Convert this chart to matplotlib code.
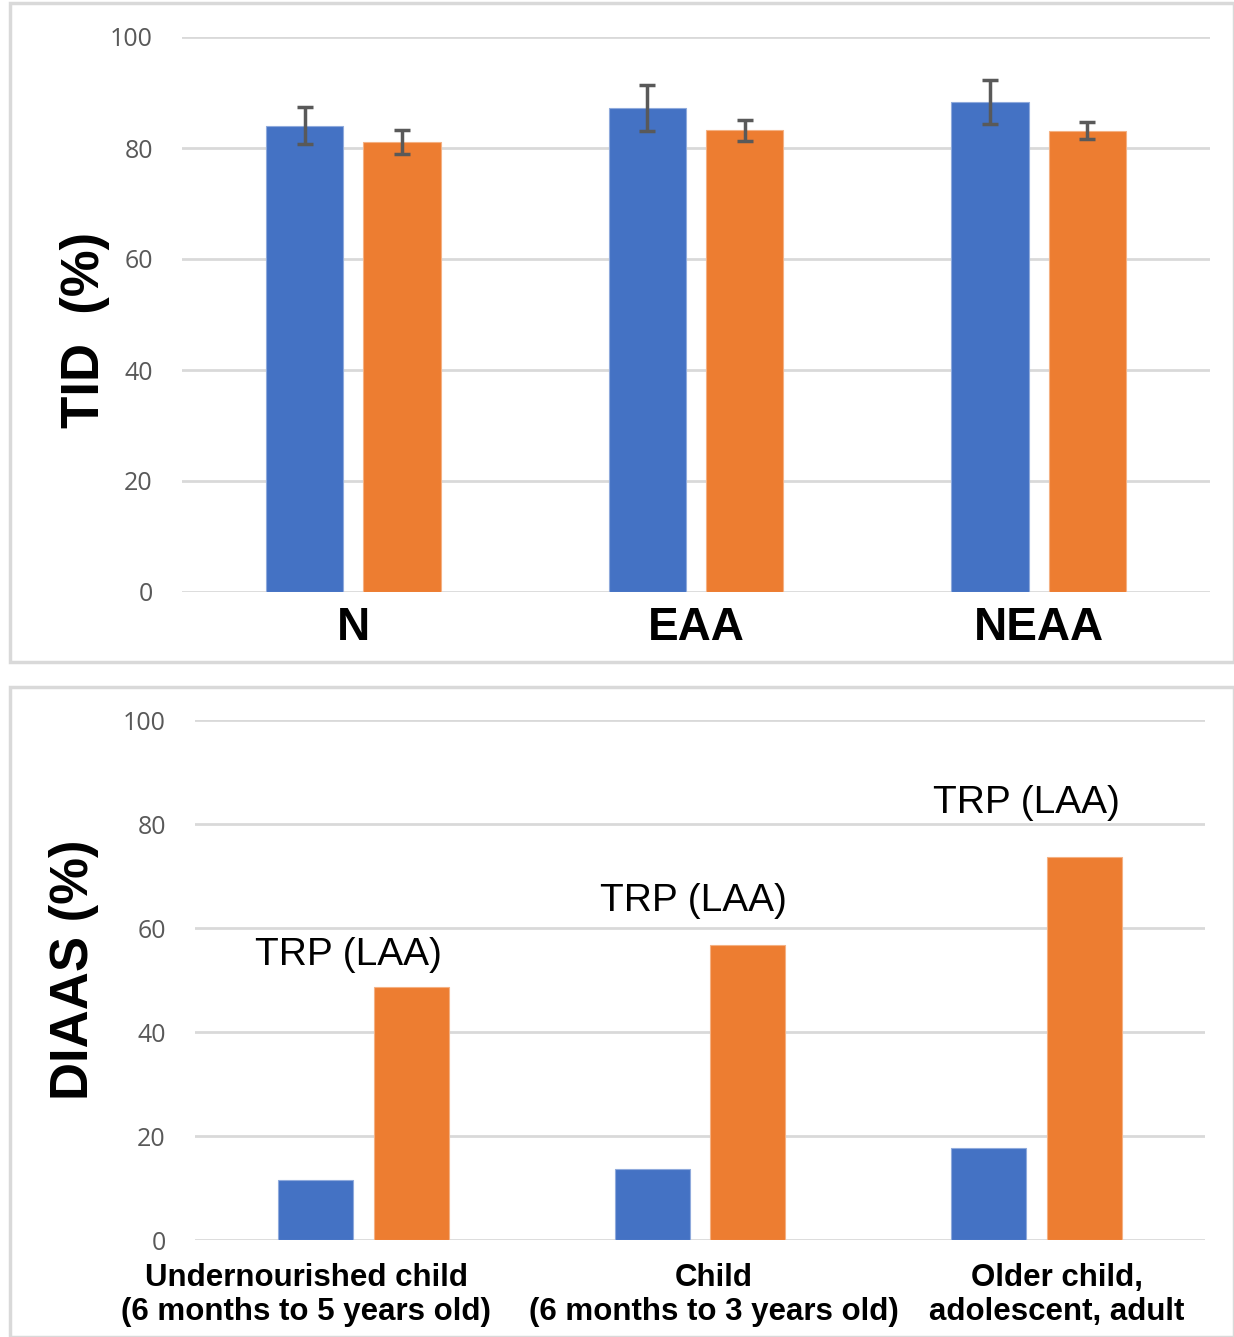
import numpy as np
import matplotlib.pyplot as plt
from matplotlib.patches import Rectangle

# 数据
top_cats = ['N', 'EAA', 'NEAA']
top_blue = [84.0, 87.2, 88.3]
top_blue_err = [3.3, 4.2, 3.9]
top_orange = [81.1, 83.2, 83.1]
top_orange_err = [2.2, 1.9, 1.5]

bot_cats = ['Undernourished child\n(6 months to 5 years old)',
            'Child\n(6 months to 3 years old)',
            'Older child,\nadolescent, adult']
bot_blue = [11.5, 13.7, 17.7]
bot_orange = [48.7, 56.7, 73.7]
bot_notes = ['TRP (LAA)', 'TRP (LAA)', 'TRP (LAA)']
note_y = [54.8, 65.2, 84.0]

yticks = [0, 20, 40, 60, 80, 100]

blue = '#4472C4'
orange = '#ED7D31'
grid_c = '#D9D9D9'
tick_c = '#595959'

fig = plt.figure(figsize=(12.34, 13.37), dpi=100)

# 外框
fig.patches.append(Rectangle((10/1234, 1-662/1337), 1224/1234, 659/1337,
                             transform=fig.transFigure, fill=False,
                             edgecolor='#D9D9D9', linewidth=2.5))
fig.patches.append(Rectangle((10/1234, 0), 1224/1234, 650/1337,
                             transform=fig.transFigure, fill=False,
                             edgecolor='#D9D9D9', linewidth=2.5))


def style_ax(ax):
    for s in ax.spines.values():
        s.set_visible(False)
    ax.set_yticks(yticks)
    ax.set_ylim(0, 100)
    ax.grid(axis='y', color=grid_c, linewidth=2)
    ax.set_axisbelow(True)
    ax.tick_params(axis='y', length=0, pad=21, labelsize=18, labelcolor=tick_c)
    ax.tick_params(axis='x', length=0)
    for t in ax.get_yticklabels():
        t.set_fontfamily('Open Sans')


# 上图
ax1 = fig.add_axes([182/1234, 1-592/1337, 1028/1234, 555/1337])
style_ax(ax1)
x = np.arange(len(top_cats))
w = 0.225
off = 0.142
ax1.bar(x - off, top_blue, w, color=blue, edgecolor='#8FAADC', linewidth=0.8,
        yerr=top_blue_err, error_kw=dict(ecolor='#595959', elinewidth=2.5, capsize=6, capthick=2.5))
ax1.bar(x + off, top_orange, w, color=orange, edgecolor='#F4B183', linewidth=0.8,
        yerr=top_orange_err, error_kw=dict(ecolor='#595959', elinewidth=2.5, capsize=6, capthick=2.5))
ax1.set_xlim(-0.5, 2.5)
ax1.set_xticks(x)
ax1.set_xticklabels(top_cats, fontsize=33, fontweight='bold', fontfamily='Liberation Sans')
ax1.tick_params(axis='x', pad=10)
ax1.set_ylabel('TID  (%)', fontsize=38, fontweight='bold', fontfamily='Liberation Sans')
ax1.yaxis.set_label_coords(-0.07, 0.472)

# 下图
ax2 = fig.add_axes([195/1234, 1-1240/1337, 1010/1234, 520/1337])
style_ax(ax2)
w2 = 0.223
ax2.bar(x - off, bot_blue, w2, color=blue, edgecolor='#8FAADC', linewidth=0.8)
ax2.bar(x + off, bot_orange, w2, color=orange, edgecolor='#F4B183', linewidth=0.8)
ax2.set_xlim(-0.5, 2.5)
ax2.set_xticks(x)
ax2.set_xticklabels([])
label_dx = [-0.17, 0.04, 0.06]
for i, lab in enumerate(bot_cats):
    ax2.text(x[i] + label_dx[i], -4.5, lab, ha='center', va='top', fontsize=22.5,
             fontweight='bold', fontfamily='Liberation Sans', linespacing=1.15)
note_dx = [-0.045, -0.02, -0.03]
for i, t in enumerate(bot_notes):
    ax2.text(x[i] + note_dx[i], note_y[i], t, ha='center', va='center', fontsize=28,
             fontfamily='Liberation Sans')
ax2.set_ylabel('DIAAS (%)', fontsize=38, fontweight='bold', fontfamily='Liberation Sans')
ax2.yaxis.set_label_coords(-0.095, 0.519)

plt.savefig('out.png', dpi=100)
